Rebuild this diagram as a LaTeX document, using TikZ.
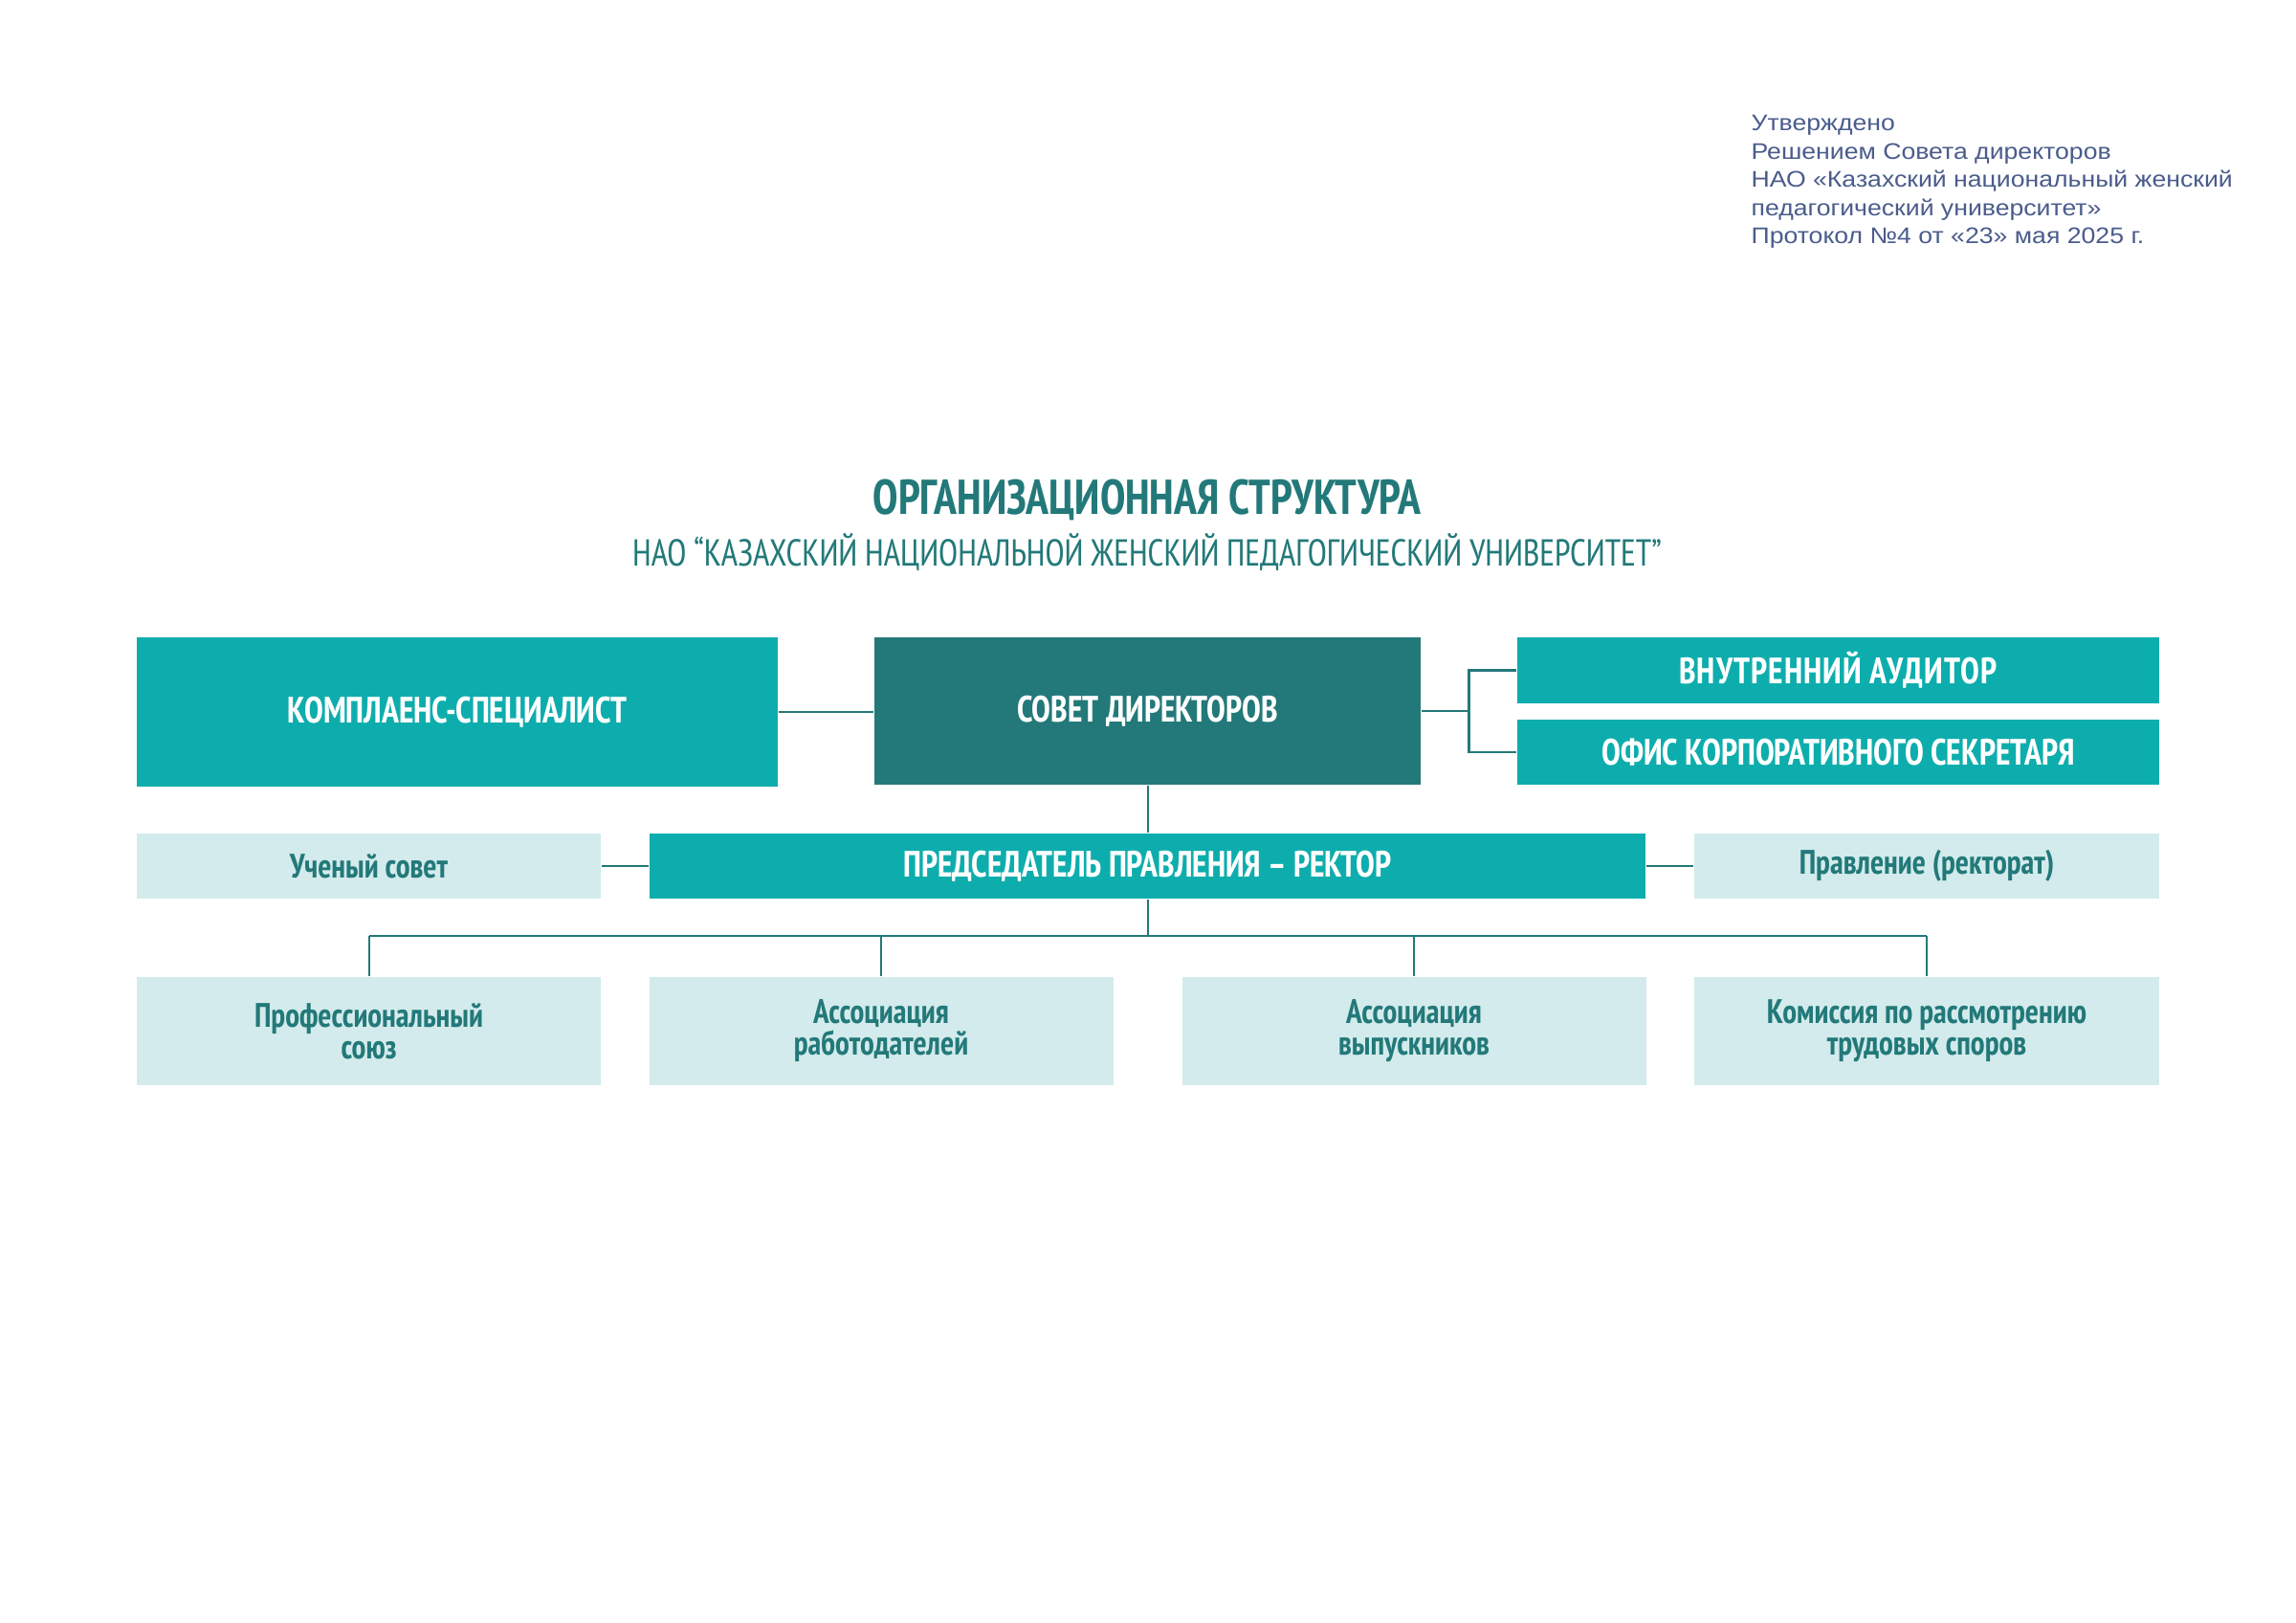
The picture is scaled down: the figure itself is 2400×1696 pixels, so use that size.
\documentclass[tikz,border=0pt]{standalone}
\usepackage{fontspec}
\setmainfont{PT Sans Narrow}[FakeStretch=0.935]
\newfontfamily\notefont{Liberation Sans}[FakeStretch=1.13]

\definecolor{tealmain}{HTML}{0EADAD}
\definecolor{tealdark}{HTML}{237979}
\definecolor{teallight}{HTML}{D3EBEC}
\definecolor{notecol}{HTML}{4A5C8C}

\newcommand{\pxu}{0.012375cm}

\tikzset{
  box/.style={rectangle, inner sep=0pt, align=center,
    font=\bfseries\fontsize{13.5}{14}\selectfont},
  tealbox/.style={box, fill=tealmain, text=white},
  darkbox/.style={box, fill=tealdark, text=white},
  lightbox/.style={box, fill=teallight, text=tealdark,
    font=\bfseries\fontsize{12.5}{11.6}\selectfont},
  link/.style={draw=tealdark, line width=1pt},
  drop/.style={draw=tealdark, line width=0.7pt},
}

\begin{document}
\begin{tikzpicture}[x=\pxu, y=-\pxu]
    \useasboundingbox[fill=white] (0,0) rectangle (2400,1696);

    % approval note
    \node[anchor=north west, align=left, inner sep=0pt, text=notecol,
      font=\notefont\fontsize{8.3}{10.4}\selectfont] (note) at (1830,120)
      {Утверждено\\Решением Совета директоров\\НАО «Казахский национальный женский\\педагогический университет»\\Протокол №4 от «23» мая 2025 г.};

    % title
    \node[text=tealdark, font=\bfseries\fontsize{18}{20}\selectfont] (title) at (1199,522) {ОРГАНИЗАЦИОННАЯ СТРУКТУРА};
    \node[text=tealdark, font=\fontsize{13.8}{15}\selectfont] (subtitle) at (1199,577) {НАО “КАЗАХСКИЙ НАЦИОНАЛЬНОЙ ЖЕНСКИЙ ПЕДАГОГИЧЕСКИЙ УНИВЕРСИТЕТ”};

    % top row
    \node[tealbox, minimum width=670*\pxu, minimum height=156*\pxu] (comp) at (478,744) {КОМПЛАЕНС-СПЕЦИАЛИСТ};
    \node[darkbox, minimum width=571*\pxu, minimum height=154*\pxu] (council) at (1199.5,743) {СОВЕТ ДИРЕКТОРОВ};
    \node[tealbox, minimum width=671*\pxu, minimum height=69*\pxu] (auditor) at (1921.5,700.5)
      {\addfontfeatures{LetterSpace=3.2}ВНУТРЕННИЙ АУДИТОР};
    \node[tealbox, minimum width=671*\pxu, minimum height=68*\pxu] (secretary) at (1921.5,786) {ОФИС КОРПОРАТИВНОГО СЕКРЕТАРЯ};

    % middle row
    \node[lightbox, minimum width=485*\pxu, minimum height=68*\pxu] (scicouncil) at (385.5,905) {Ученый совет};
    \node[tealbox, minimum width=1041*\pxu, minimum height=68*\pxu] (chair) at (1199.5,905) {ПРЕДСЕДАТЕЛЬ ПРАВЛЕНИЯ – РЕКТОР};
    \node[lightbox, minimum width=486*\pxu, minimum height=68*\pxu] (board) at (2014,905) {Правление (ректорат)};

    % bottom row
    \node[lightbox, minimum width=485*\pxu, minimum height=113*\pxu] (union) at (385.5,1077.5) {Профессиональный\\союз};
    \node[lightbox, minimum width=485*\pxu, minimum height=113*\pxu] (employers) at (921,1077.5) {Ассоциация\\работодателей};
    \node[lightbox, minimum width=485*\pxu, minimum height=113*\pxu] (alumni) at (1478,1077.5) {Ассоциация\\выпускников};
    \node[lightbox, minimum width=486*\pxu, minimum height=113*\pxu] (disputes) at (2014,1077.5) {Комиссия по рассмотрению\\трудовых споров};

    % connectors
    \draw[link] (comp.east) -- (comp.east -| council.west);
    \draw[link] (council.east) -- ++(50,0) coordinate (fork);
    \draw[link] (auditor.west) -| (fork) |- (secretary.west);
    \draw[drop] (council.south) -- (chair.north);
    \draw[link] (scicouncil) -- (chair);
    \draw[link] (chair) -- (board);

    \coordinate (bus) at (1199.5,978);
    \draw[drop] (chair.south) -- (bus);
    \draw[link] (union.north |- bus) -- (disputes.north |- bus);
    \foreach \n in {union, employers, alumni, disputes}
      \draw[drop] (\n.north) -- (\n.north |- bus);
\end{tikzpicture}
\end{document}
